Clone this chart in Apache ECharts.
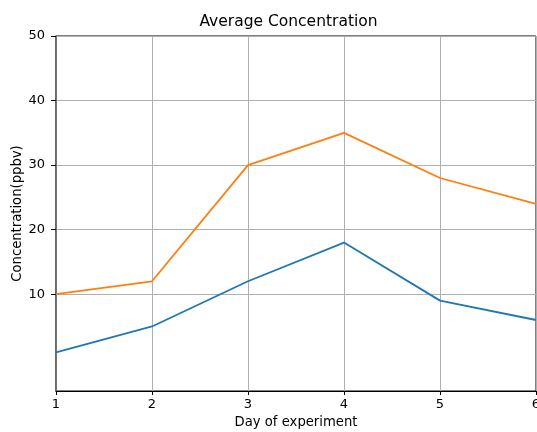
<!DOCTYPE html>
<html>
<head>
<meta charset="utf-8">
<script src="https://cdn.jsdelivr.net/npm/echarts@6/dist/echarts.min.js"></script>
<style>
  html, body { margin: 0; padding: 0; background: #fff; }
  #chart { width: 537px; height: 432px; }
</style>
</head>
<body>
<div id="chart"></div>
<script>
// Days of the experiment and measured average concentrations (ppbv)
const days = [1, 2, 3, 4, 5, 6];
const seriesA = [1, 5, 12, 18, 9, 6];
const seriesB = [10, 12, 30, 35, 28, 24];
const yTicks = [10, 20, 30, 40, 50];

const font = 'DejaVu Sans';
const chart = echarts.init(document.getElementById('chart'), null, { renderer: 'canvas' });

chart.setOption({
  backgroundColor: '#fff',
  animation: false,
  graphic: [{
    type: 'text',
    x: 288.5,
    y: 22,
    style: {
      text: 'Average Concentration',
      fontFamily: font, fontSize: 15.5, fill: '#000',
      textAlign: 'center', textVerticalAlign: 'middle'
    }
  }],
  grid: {
    left: 56, top: 36, right: 1, bottom: 41,
    outerBoundsMode: 'none',
    containLabel: false,
    show: true, borderColor: '#000', borderWidth: 1, backgroundColor: 'transparent'
  },
  xAxis: {
    type: 'value',
    min: 1, max: 6, interval: 1,
    name: 'Day of experiment',
    nameLocation: 'middle',
    nameGap: 25,
    nameTextStyle: { fontFamily: font, fontSize: 13.2, color: '#000' },
    axisLine: { show: true, onZero: false, lineStyle: { color: '#000', width: 1 } },
    axisTick: { show: true, inside: false, length: 4, lineStyle: { color: '#000' } },
    axisLabel: { fontFamily: font, fontSize: 13, color: '#000', margin: 7 },
    splitLine: { show: true, lineStyle: { color: '#b0b0b0', width: 1 } }
  },
  yAxis: {
    type: 'value',
    min: -5, max: 50,
    name: 'Concentration(ppbv)',
    nameLocation: 'middle',
    nameGap: 32,
    nameMoveOverlap: false,
    nameTextStyle: { fontFamily: font, fontSize: 13.2, color: '#000' },
    axisLine: { show: true, onZero: false, lineStyle: { color: '#606060', width: 1.5 } },
    axisTick: { show: true, inside: false, length: 5, customValues: yTicks, lineStyle: { color: '#000' } },
    axisLabel: { fontFamily: font, fontSize: 13, color: '#000', margin: 11, customValues: yTicks },
    splitLine: { show: true, lineStyle: { color: '#b0b0b0', width: 1 } }
  },
  series: [
    {
      type: 'line',
      data: days.map((d, i) => [d, seriesA[i]]),
      symbol: 'none',
      lineStyle: { color: '#1f77b4', width: 1.8 },
      itemStyle: { color: '#1f77b4' }
    },
    {
      type: 'line',
      data: days.map((d, i) => [d, seriesB[i]]),
      symbol: 'none',
      lineStyle: { color: '#ff7f0e', width: 1.8 },
      itemStyle: { color: '#ff7f0e' }
    }
  ]
});
</script>
</body>
</html>
